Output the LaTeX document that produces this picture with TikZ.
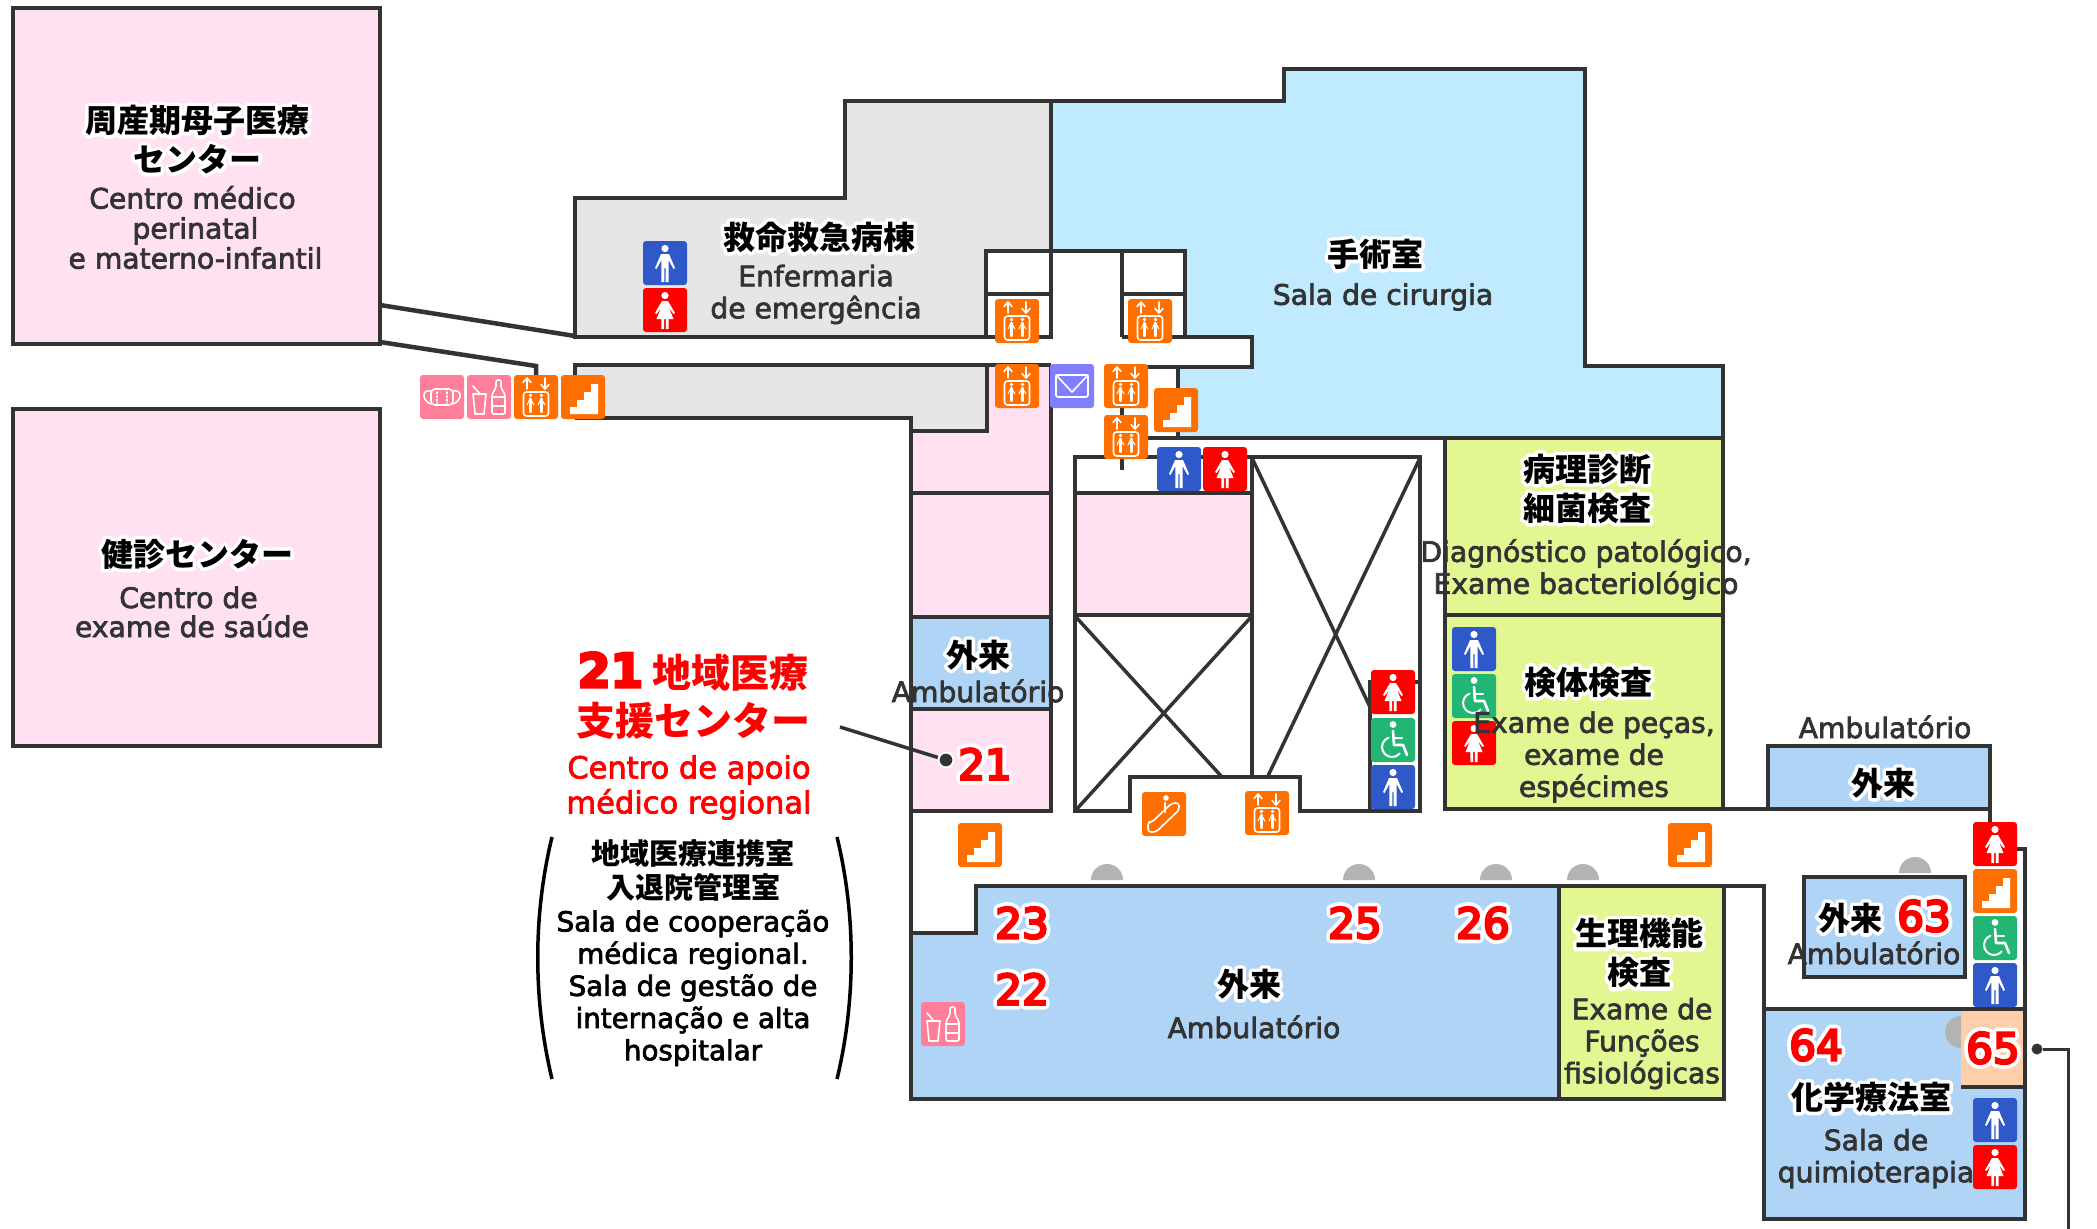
\documentclass[tikz,border=0pt]{standalone}
\usepackage{fontspec}
\setmainfont[FakeBold=2.5]{DejaVu Sans}
\newfontfamily\jpfont{Noto Sans CJK JP}
\newfontfamily\jpbackfont[BoldFeatures={FakeBold=22}]{Noto Sans CJK JP}
\newfontfamily\numfont[FakeBold=6]{DejaVu Sans}
\newfontfamily\numbackfont[FakeBold=24]{DejaVu Sans}
\definecolor{wallgray}{HTML}{333333}
\definecolor{pinkroom}{HTML}{FFE1F2}
\definecolor{grayroom}{HTML}{E6E6E6}
\definecolor{skyroom}{HTML}{C0EAFE}
\definecolor{blueroom}{HTML}{AFD4F5}
\definecolor{greenroom}{HTML}{E2F792}
\definecolor{peachroom}{HTML}{FFCFAB}
\definecolor{domegray}{HTML}{B3B3B3}
\definecolor{iconorange}{HTML}{FF6F00}
\definecolor{iconblue}{HTML}{2F58C8}
\definecolor{iconred}{HTML}{FF0000}
\definecolor{icongreen}{HTML}{22B573}
\definecolor{iconpink}{HTML}{FF7F9B}
\definecolor{iconpurple}{HTML}{8080FF}
\tikzset{
  room/.style={draw=wallgray, line width=4.5pt},
  wall/.style={draw=wallgray, line width=4.5pt},
  thinwall/.style={draw=wallgray, line width=3.5pt},
  latin/.style={text=wallgray, align=center, inner sep=0pt, font=\fontsize{28.2}{32}\selectfont},
  latinblack/.style={text=black, align=center, inner sep=0pt, font=\fontsize{27.7}{32.2}\selectfont},
  redlatin/.style={text=iconred, align=center, inner sep=0pt, font=\fontsize{30.5}{35}\selectfont},
  redhead/.style={text=iconred, align=center, inner sep=0pt, font=\jpfont\bfseries\fontsize{39}{48.5}\selectfont},
  jpfront/.style={text=black, align=center, inner sep=0pt, font=\jpfont\bfseries\fontsize{32}{39}\selectfont},
  jpback/.style={text=white, align=center, inner sep=0pt, font=\jpbackfont\bfseries\fontsize{32}{39}\selectfont},
  jpsmall/.style={text=black, align=center, inner sep=0pt, font=\jpfont\bfseries\fontsize{29}{34}\selectfont},
  numfront/.style={text=iconred, inner sep=0pt, font=\numfont\fontsize{42}{42}\selectfont},
  numback/.style={text=white, inner sep=0pt, font=\numbackfont\fontsize{42}{42}\selectfont},
  glyph/.style={draw=white, line width=1.6pt, line cap=round, line join=round},
  iconman/.pic={
    \fill[iconblue, rounded corners=3pt] (-22,-22) rectangle (22,22);
    \fill[white] (0,-14.5) circle (3.6);
    \fill[white] (-4,-9) -- (4,-9) -- (10,5) -- (8.5,6) -- (3.6,-3) -- (3.6,19) -- (0.7,19) -- (0.7,5) -- (-0.7,5) -- (-0.7,19) -- (-3.6,19) -- (-3.6,-3) -- (-8.5,6) -- (-10,5) -- cycle;
  },
  iconwoman/.pic={
    \fill[iconred, rounded corners=3pt] (-22,-22) rectangle (22,22);
    \fill[white] (0,-14.5) circle (3.6);
    \fill[white] (-3,-9) -- (3,-9) -- (10,3) -- (8.5,4) -- (4,-2) -- (8.5,9) -- (3.6,9) -- (3.6,19) -- (0.9,19) -- (0.9,9) -- (-0.9,9) -- (-0.9,19) -- (-3.6,19) -- (-3.6,9) -- (-8.5,9) -- (-4,-2) -- (-8.5,4) -- (-10,3) -- cycle;
  },
  iconwheel/.pic={
    \fill[icongreen, rounded corners=3pt] (-22,-22) rectangle (22,22);
    \fill[white] (0,-15.5) circle (3.4);
    \draw[glyph, line width=2.6pt] (0,-9) -- (1,5) -- (10,5) -- (14,15);
    \draw[glyph, line width=2pt] (1,-2) -- (9,-2);
    \draw[glyph, line width=2pt] (-4.4,-2.4) arc[start angle=250, end angle=40, radius=10];
  },
  iconlift/.pic={
    \fill[iconorange, rounded corners=3pt] (-22,-22) rectangle (22,22);
    \draw[glyph] (-9,-8) -- (-9,-19) (-13,-14.5) -- (-9,-19) -- (-5,-14.5);
    \draw[glyph] (9,-8) -- (9,-19) (5,-12.5) -- (9,-8) -- (13,-12.5);
    \draw[glyph, rounded corners=3pt] (-12.5,-5) rectangle (12.5,19);
    \fill[white] (-5.5,-1.5) circle (1.8) (5.5,-1.5) circle (1.8);
    \draw[glyph, line width=2.2pt] (-5.5,2) -- (-5.5,15) (5.5,2) -- (5.5,15);
    \draw[glyph, line width=1pt] (-9,8) -- (-6,1.5) -- (-2,8) (2,8) -- (5,1.5) -- (9,8);
  },
  iconstair/.pic={
    \fill[iconorange, rounded corners=3pt] (-22,-22) rectangle (22,22);
    \fill[white] (-13,17) -- (15,17) -- (15,-13) -- (8,-13) -- (8,-5) -- (1,-5) -- (1,3) -- (-6,3) -- (-6,10) -- (-13,10) -- cycle;
  },
  iconescal/.pic={
    \fill[iconorange, rounded corners=3pt] (-22,-22) rectangle (22,22);
    \draw[glyph, rounded corners=3pt] (-16,18) -- (-8,18) -- (15,-4) -- (15,-11) -- (8,-11) -- (-12,8) -- (-16,8) -- cycle;
    \fill[white] (2,-16) circle (2.8);
    \draw[glyph, line width=2.4pt] (1,-11) -- (1,-2);
  },
  iconmail/.pic={
    \fill[iconpurple, rounded corners=3pt] (-22,-22) rectangle (22,22);
    \draw[glyph, rounded corners=2pt] (-16,-11) rectangle (16,11);
    \draw[glyph] (-16,-11) -- (0,6) -- (16,-11);
  },
  iconmask/.pic={
    \fill[iconpink, rounded corners=3pt] (-22,-22) rectangle (22,22);
    \draw[glyph, rounded corners=4pt] (-11,-8) -- (11,-8) -- (11,8) -- (-11,8) -- cycle;
    \draw[glyph] (-11,-6) .. controls (-21,-8) and (-20,4) .. (-11,7);
    \draw[glyph] (11,-6) .. controls (21,-8) and (20,4) .. (11,7);
    \draw[glyph, dotted, line width=1.4pt] (-5,-5) -- (-5,6) (5,-5) -- (5,6);
  },
  icondrink/.pic={
    \fill[iconpink, rounded corners=3pt] (-22,-22) rectangle (22,22);
    \draw[glyph] (-16,-3) -- (-3,-3) -- (-5,17) -- (-14,17) -- cycle;
    \draw[glyph] (-16,-11) -- (-9,-3);
    \draw[glyph, rounded corners=2pt] (7,-17) -- (12,-17) -- (12,-9) -- (16,-3) -- (16,17) -- (3,17) -- (3,-3) -- (7,-9) -- cycle;
    \draw[glyph] (3,0) -- (16,0) (3,9) -- (16,9);
  }
}
\newcommand{\jplabel}[3]{\node[jpback] (#1back) at (#2) {\special{pdf:code 1 j}#3}; \node[jpfront] (#1) at (#2) {#3};}
\newcommand{\numlabel}[3]{\node[numback] (#1back) at (#2) {\special{pdf:code 1 j}#3}; \node[numfront] (#1) at (#2) {#3};}
\begin{document}
\begin{tikzpicture}[x=1pt, y=-1pt]
      \useasboundingbox (0,0) rectangle (2097,1229);
      \filldraw[room, fill=pinkroom] (13,8) rectangle (380,344);
      \filldraw[room, fill=pinkroom] (13,409) rectangle (380,746);
      \fill[grayroom] (575,365) -- (987,365) -- (987,431) -- (911,431) -- (911,418) -- (575,418) -- cycle;
      \fill[pinkroom] (987,365) -- (1051,365) -- (1051,493) -- (911,493) -- (911,431) -- (987,431) -- cycle;
      \filldraw[room, fill=grayroom] (575,198) -- (845,198) -- (845,101) -- (1051,101) -- (1051,251) -- (986,251) -- (986,337) -- (575,337) -- cycle;
      \filldraw[room, fill=skyroom] (1051,101) -- (1284,101) -- (1284,69) -- (1585,69) -- (1585,366) -- (1723,366) -- (1723,438) -- (1178,438) -- (1178,367) -- (1252,367) -- (1252,337) -- (1185,337) -- (1185,251) -- (1051,251) -- cycle;
      \draw[wall] (986,251) -- (986,337) -- (1051,337) -- (1051,251);
      \draw[wall] (986,294) -- (1051,294);
      \draw[wall] (1122,337) -- (1122,251);
      \draw[wall] (1122,294) -- (1185,294);
      \draw[wall] (1122,337) -- (1185,337);
      \draw[wall] (1122,367) -- (1178,367);
      \draw[wall] (1122,365) -- (1122,470);
      \draw[wall] (1122,438) -- (1178,438);
      \draw[wall] (380,305) -- (575,336);
      \draw[wall] (380,342) -- (536,366) -- (536,380);
      \draw[wall] (575,380) -- (575,365) -- (1051,365);
      \draw[wall] (575,418) -- (911,418) -- (911,431) -- (987,431) -- (987,365);
      \draw[wall] (1051,365) -- (1051,811);
      \draw[wall] (911,418) -- (911,1099);
      \draw[wall] (911,493) -- (1051,493);
      \filldraw[room, fill=pinkroom] (911,493) rectangle (1051,617);
      \filldraw[room, fill=blueroom] (911,617) rectangle (1051,709);
      \filldraw[room, fill=pinkroom] (911,709) rectangle (1051,811);
      \filldraw[room, fill=pinkroom] (1075,493) rectangle (1252,615);
      \draw[wall] (1075,811) -- (1075,457) -- (1420,457) -- (1420,811) -- (1300,811) -- (1300,777) -- (1130,777) -- (1130,811) -- cycle;
      \draw[thinwall] (1252,457) -- (1252,777);
      \draw[thinwall] (1075,616) -- (1222,777);
      \draw[thinwall] (1252,616) -- (1075,811);
      \draw[thinwall] (1252,458) -- (1370,707);
      \draw[thinwall] (1420,458) -- (1267,778);
      \draw[thinwall] (1370,811) -- (1370,682) -- (1420,682);
      \filldraw[room, fill=greenroom] (1445,438) rectangle (1723,615);
      \filldraw[room, fill=greenroom] (1445,615) rectangle (1723,809);
      \filldraw[room, fill=blueroom] (1768,746) rectangle (1990,809);
      \draw[wall] (1723,809) -- (1768,809);
      \draw[thinwall] (1990,809) -- (1990,830);
      \filldraw[room, fill=blueroom] (976,886) -- (1559,886) -- (1559,1099) -- (911,1099) -- (911,933) -- (976,933) -- cycle;
      \filldraw[room, fill=greenroom] (1559,886) rectangle (1724,1099);
      \draw[thinwall] (1559,888) -- (1559,1097);
      \draw[wall] (1724,886) -- (1764,886) -- (1764,1009);
      \filldraw[room, fill=blueroom] (1804,877) rectangle (1965,977);
      \filldraw[room, fill=blueroom] (1764,1009) rectangle (2025,1219);
      \fill[peachroom] (1961,1011) rectangle (2023,1087);
      \draw[wall] (1961,1087) -- (2025,1087);
      \draw[wall] (2000,849) -- (2025,849) -- (2025,1009);
      \fill[domegray] (1091,880) arc[start angle=180, end angle=360, radius=16] -- cycle;
      \fill[domegray] (1343,880) arc[start angle=180, end angle=360, radius=16] -- cycle;
      \fill[domegray] (1480,880) arc[start angle=180, end angle=360, radius=16] -- cycle;
      \fill[domegray] (1567,880) arc[start angle=180, end angle=360, radius=16] -- cycle;
      \fill[domegray] (1899,873) arc[start angle=180, end angle=360, radius=16] -- cycle;
      \fill[domegray] (1961,1016) arc[start angle=270, end angle=90, radius=16] -- cycle;
      \pic at (665,263) {iconman};
      \pic at (665,310) {iconwoman};
      \pic at (442,397) {iconmask};
      \pic at (489,397) {icondrink};
      \pic at (536,397) {iconlift};
      \pic at (583,397) {iconstair};
      \pic at (1017,321) {iconlift};
      \pic at (1150,321) {iconlift};
      \pic at (1017,386) {iconlift};
      \pic at (1072,386) {iconmail};
      \pic at (1126,386) {iconlift};
      \pic at (1176,410) {iconstair};
      \pic at (1126,437) {iconlift};
      \pic at (1179,469) {iconman};
      \pic at (1225,469) {iconwoman};
      \pic at (1474,649) {iconman};
      \pic at (1474,696) {iconwheel};
      \pic at (1474,743) {iconwoman};
      \pic at (1393,692) {iconwoman};
      \pic at (1393,740) {iconwheel};
      \pic at (1393,787) {iconman};
      \pic at (1164,814) {iconescal};
      \pic at (1267,813) {iconlift};
      \pic at (980,845) {iconstair};
      \pic at (1690,845) {iconstair};
      \pic at (943,1024) {icondrink};
      \pic at (1995,844) {iconwoman};
      \pic at (1995,891) {iconstair};
      \pic at (1995,938) {iconwheel};
      \pic at (1995,985) {iconman};
      \pic at (1995,1120) {iconman};
      \pic at (1995,1167) {iconwoman};
      \jplabel{perinatalname}{197,139.5}{周産期母子医療\\センター}
      \node[latin, font=\fontsize{28.2}{30}\selectfont] (perinatal) at (195.5,227.5) {Centro médico\hspace*{6pt}\\perinatal\hspace*{6pt}\\e materno-infantil};
      \jplabel{checkupname}{197,554}{健診センター}
      \node[latin, font=\fontsize{28.2}{29}\selectfont] (checkup) at (192,612) {Centro de\hspace*{7pt}\\exame de saúde};
      \jplabel{emergencyname}{819,237}{救命救急病棟}
      \node[latin] (emergency) at (816,294.5) {Enfermaria\\de emergência};
      \jplabel{surgeryname}{1375,254}{手術室}
      \node[latin] (surgery) at (1383,297) {Sala de cirurgia};
      \jplabel{pathologyname}{1587,488.5}{病理診断\\細菌検査}
      \node[latin] (pathology) at (1586,569.5) {Diagnóstico patológico,\\Exame bacteriológico};
      \jplabel{specimenname}{1588,682}{検体検査}
      \node[latin] (specimen) at (1594,757) {Exame de peças,\\exame de\\espécimes};
      \node[latin] (clinictop) at (1885,727) {Ambulatório};
      \jplabel{clinictopname}{1883,783}{外来}
      \jplabel{clinicleftname}{978,655}{外来}
      \node[latin] (clinicleft) at (978,691) {Ambulatório};
      \jplabel{clinicmainname}{1249,984}{外来}
      \node[latin] (clinicmain) at (1254,1027) {Ambulatório};
      \jplabel{physiologyname}{1639,953}{生理機能\\検査}
      \node[latin] (physiology) at (1642,1043.5) {Exame de\\Funções\\fisiológicas};
      \jplabel{roomsixtyname}{1850,918}{外来}
      \node[latin] (roomsixty) at (1874,953) {Ambulatório};
      \jplabel{chemoname}{1871,1097}{化学療法室}
      \node[latin] (chemo) at (1876,1158.5) {Sala de\\quimioterapia};
      \numlabel{numtwentyone}{985,764}{21}
      \numlabel{numtwentythree}{1022,923}{23}
      \numlabel{numtwentytwo}{1022,989}{22}
      \numlabel{numtwentyfive}{1355,923}{25}
      \numlabel{numtwentysix}{1483,923}{26}
      \numlabel{numsixtythree}{1924,916}{63}
      \numlabel{numsixtyfour}{1816,1045}{64}
      \numlabel{numsixtyfive}{1993,1048}{65}
      \node[redhead] (supportname) at (693,696) {{\numfont\fontsize{47}{47}\selectfont 21} 地域医療\\支援センター};
      \node[redlatin] (support) at (689,787.5) {Centro de apoio\\médico regional};
      \node[jpsmall] (liaisonname) at (693,870) {地域医療連携室\\入退院管理室};
      \node[latinblack] (liaison) at (693,988) {Sala de cooperação\\médica regional.\\Sala de gestão de\\internação e alta\hspace*{8pt}\\hospitalar};
      \draw[black, line width=3.5pt] (552,837) .. controls (533,915) and (533,1000) .. (552,1079);
      \draw[black, line width=3.5pt] (837,837) .. controls (856,915) and (856,1000) .. (837,1079);
      \coordinate (leadstart) at (840,727);
      \node[circle, fill=wallgray, draw=white, line width=2pt, minimum size=15pt, inner sep=0pt] (leaddot) at (946,760) {};
      \draw[wallgray, line width=3.5pt] (leadstart) -- (leaddot);
      \coordinate (leadbend) at (2068,1049);
      \coordinate (leadend) at (2068,1229);
      \node[circle, fill=wallgray, minimum size=11pt, inner sep=0pt] (sidedot) at (2037,1049) {};
      \draw[wallgray, line width=3pt] (sidedot) -- (leadbend) -- (leadend);
    \end{tikzpicture}
\end{document}
